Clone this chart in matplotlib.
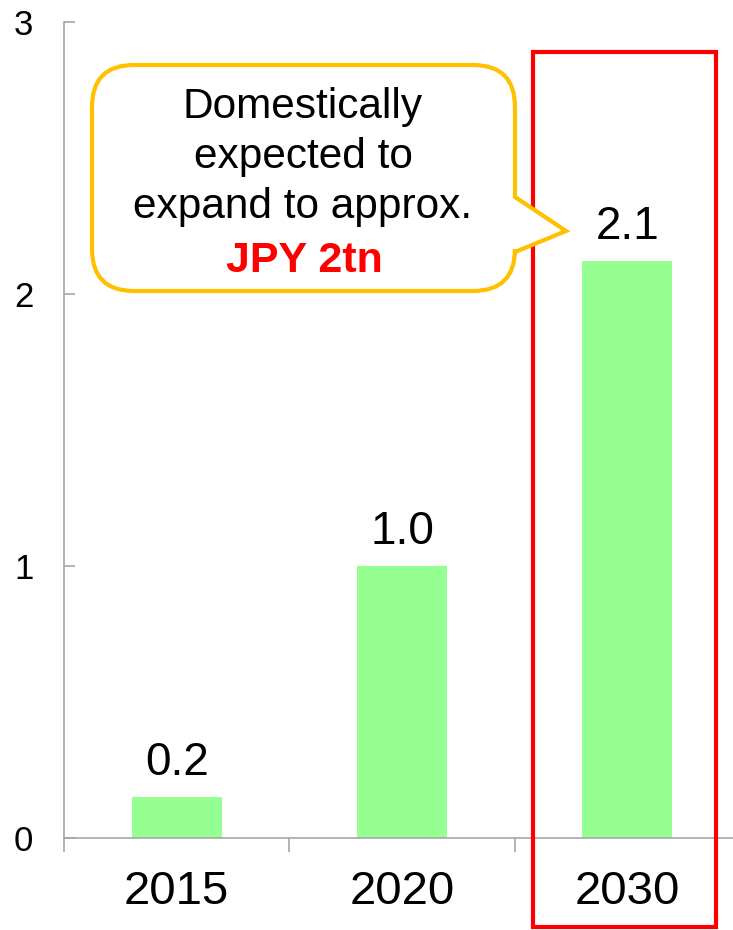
import matplotlib
matplotlib.use("Agg")
import matplotlib.pyplot as plt
from matplotlib.path import Path
from matplotlib.patches import PathPatch, Rectangle

plt.rcParams['font.family'] = ['Liberation Sans', 'DejaVu Sans']

# data
years = ['2015', '2020', '2030']
values = [0.15, 1.0, 2.12]
value_labels = ['0.2', '1.0', '2.1']
yticks = [0, 1, 2, 3]

W, H = 733, 930
fig = plt.figure(figsize=(W / 100, H / 100), dpi=100)


def px(x, y):
    # pixel position (from top-left) -> figure fraction
    return x / W, 1 - y / H


ax = fig.add_axes([64 / W, 1 - 838 / H, 676 / W, 816 / H])
x = range(len(years))
bars = ax.bar(x, values, width=0.4, color='#96FF91', zorder=2)

for i, lab in enumerate(value_labels):
    ax.annotate(lab, (i, values[i]), xytext=(0, 16), textcoords='offset points',
                ha='center', va='baseline', fontsize=33)

ax.set_xlim(-0.5, 2.5)
ax.set_ylim(0, 3)
ax.set_yticks(yticks)
ax.set_xticks(x)
ax.set_xticklabels(years)
ax.set_xticks([-0.5, 0.5, 1.5, 2.5], minor=True)

gray = '#A6A6A6'
for s in ['top', 'right']:
    ax.spines[s].set_visible(False)
for s in ['left', 'bottom']:
    ax.spines[s].set_color(gray)
    ax.spines[s].set_linewidth(1.2)

ax.tick_params(axis='y', direction='in', length=8, width=1.2, color=gray,
               labelsize=25, pad=22)
ax.tick_params(axis='x', which='major', length=0, labelsize=34, pad=23)
ax.tick_params(axis='x', which='minor', direction='out', length=10, width=1.2,
               color=gray)

# red highlight frame around 2030
x0, y0 = px(533, 927)
x1, y1 = px(716, 52)
fig.patches.append(Rectangle((x0, y0), x1 - x0, y1 - y0, transform=fig.transFigure,
                             fill=False, edgecolor='#FF0000', linewidth=3, zorder=5))

# speech bubble
bx0, bx1, by0, by1, r = 92, 515, 65, 291, 42
pts = [
    ((bx0 + r, by0), Path.MOVETO),
    ((bx1 - r, by0), Path.LINETO),
    ((bx1, by0), Path.CURVE3),
    ((bx1, by0 + r), Path.CURVE3),
    ((bx1, 197), Path.LINETO),
    ((566, 231), Path.LINETO),
    ((bx1, 252), Path.LINETO),
    ((bx1, by1 - r), Path.LINETO),
    ((bx1, by1), Path.CURVE3),
    ((bx1 - r, by1), Path.CURVE3),
    ((bx0 + r, by1), Path.LINETO),
    ((bx0, by1), Path.CURVE3),
    ((bx0, by1 - r), Path.CURVE3),
    ((bx0, by0 + r), Path.LINETO),
    ((bx0, by0), Path.CURVE3),
    ((bx0 + r, by0), Path.CURVE3),
    ((bx0 + r, by0), Path.CLOSEPOLY),
]
verts = [px(*p) for p, _ in pts]
codes = [c for _, c in pts]
fig.patches.append(PathPatch(Path(verts, codes), transform=fig.transFigure,
                             facecolor='white', edgecolor='#FFC000', linewidth=3,
                             zorder=6))

bubble_lines = ['Domestically', 'expected to', 'expand to approx.']
for txt, yb in zip(bubble_lines, [118, 168, 218]):
    fig.text(*px(303, yb), txt, ha='center', va='baseline', fontsize=30.5, zorder=7)
fig.text(*px(304, 272), 'JPY 2tn', ha='center', va='baseline', fontsize=31,
         fontweight='bold', color='#FF0000', zorder=7)

fig.savefig('out.png', dpi=100)
